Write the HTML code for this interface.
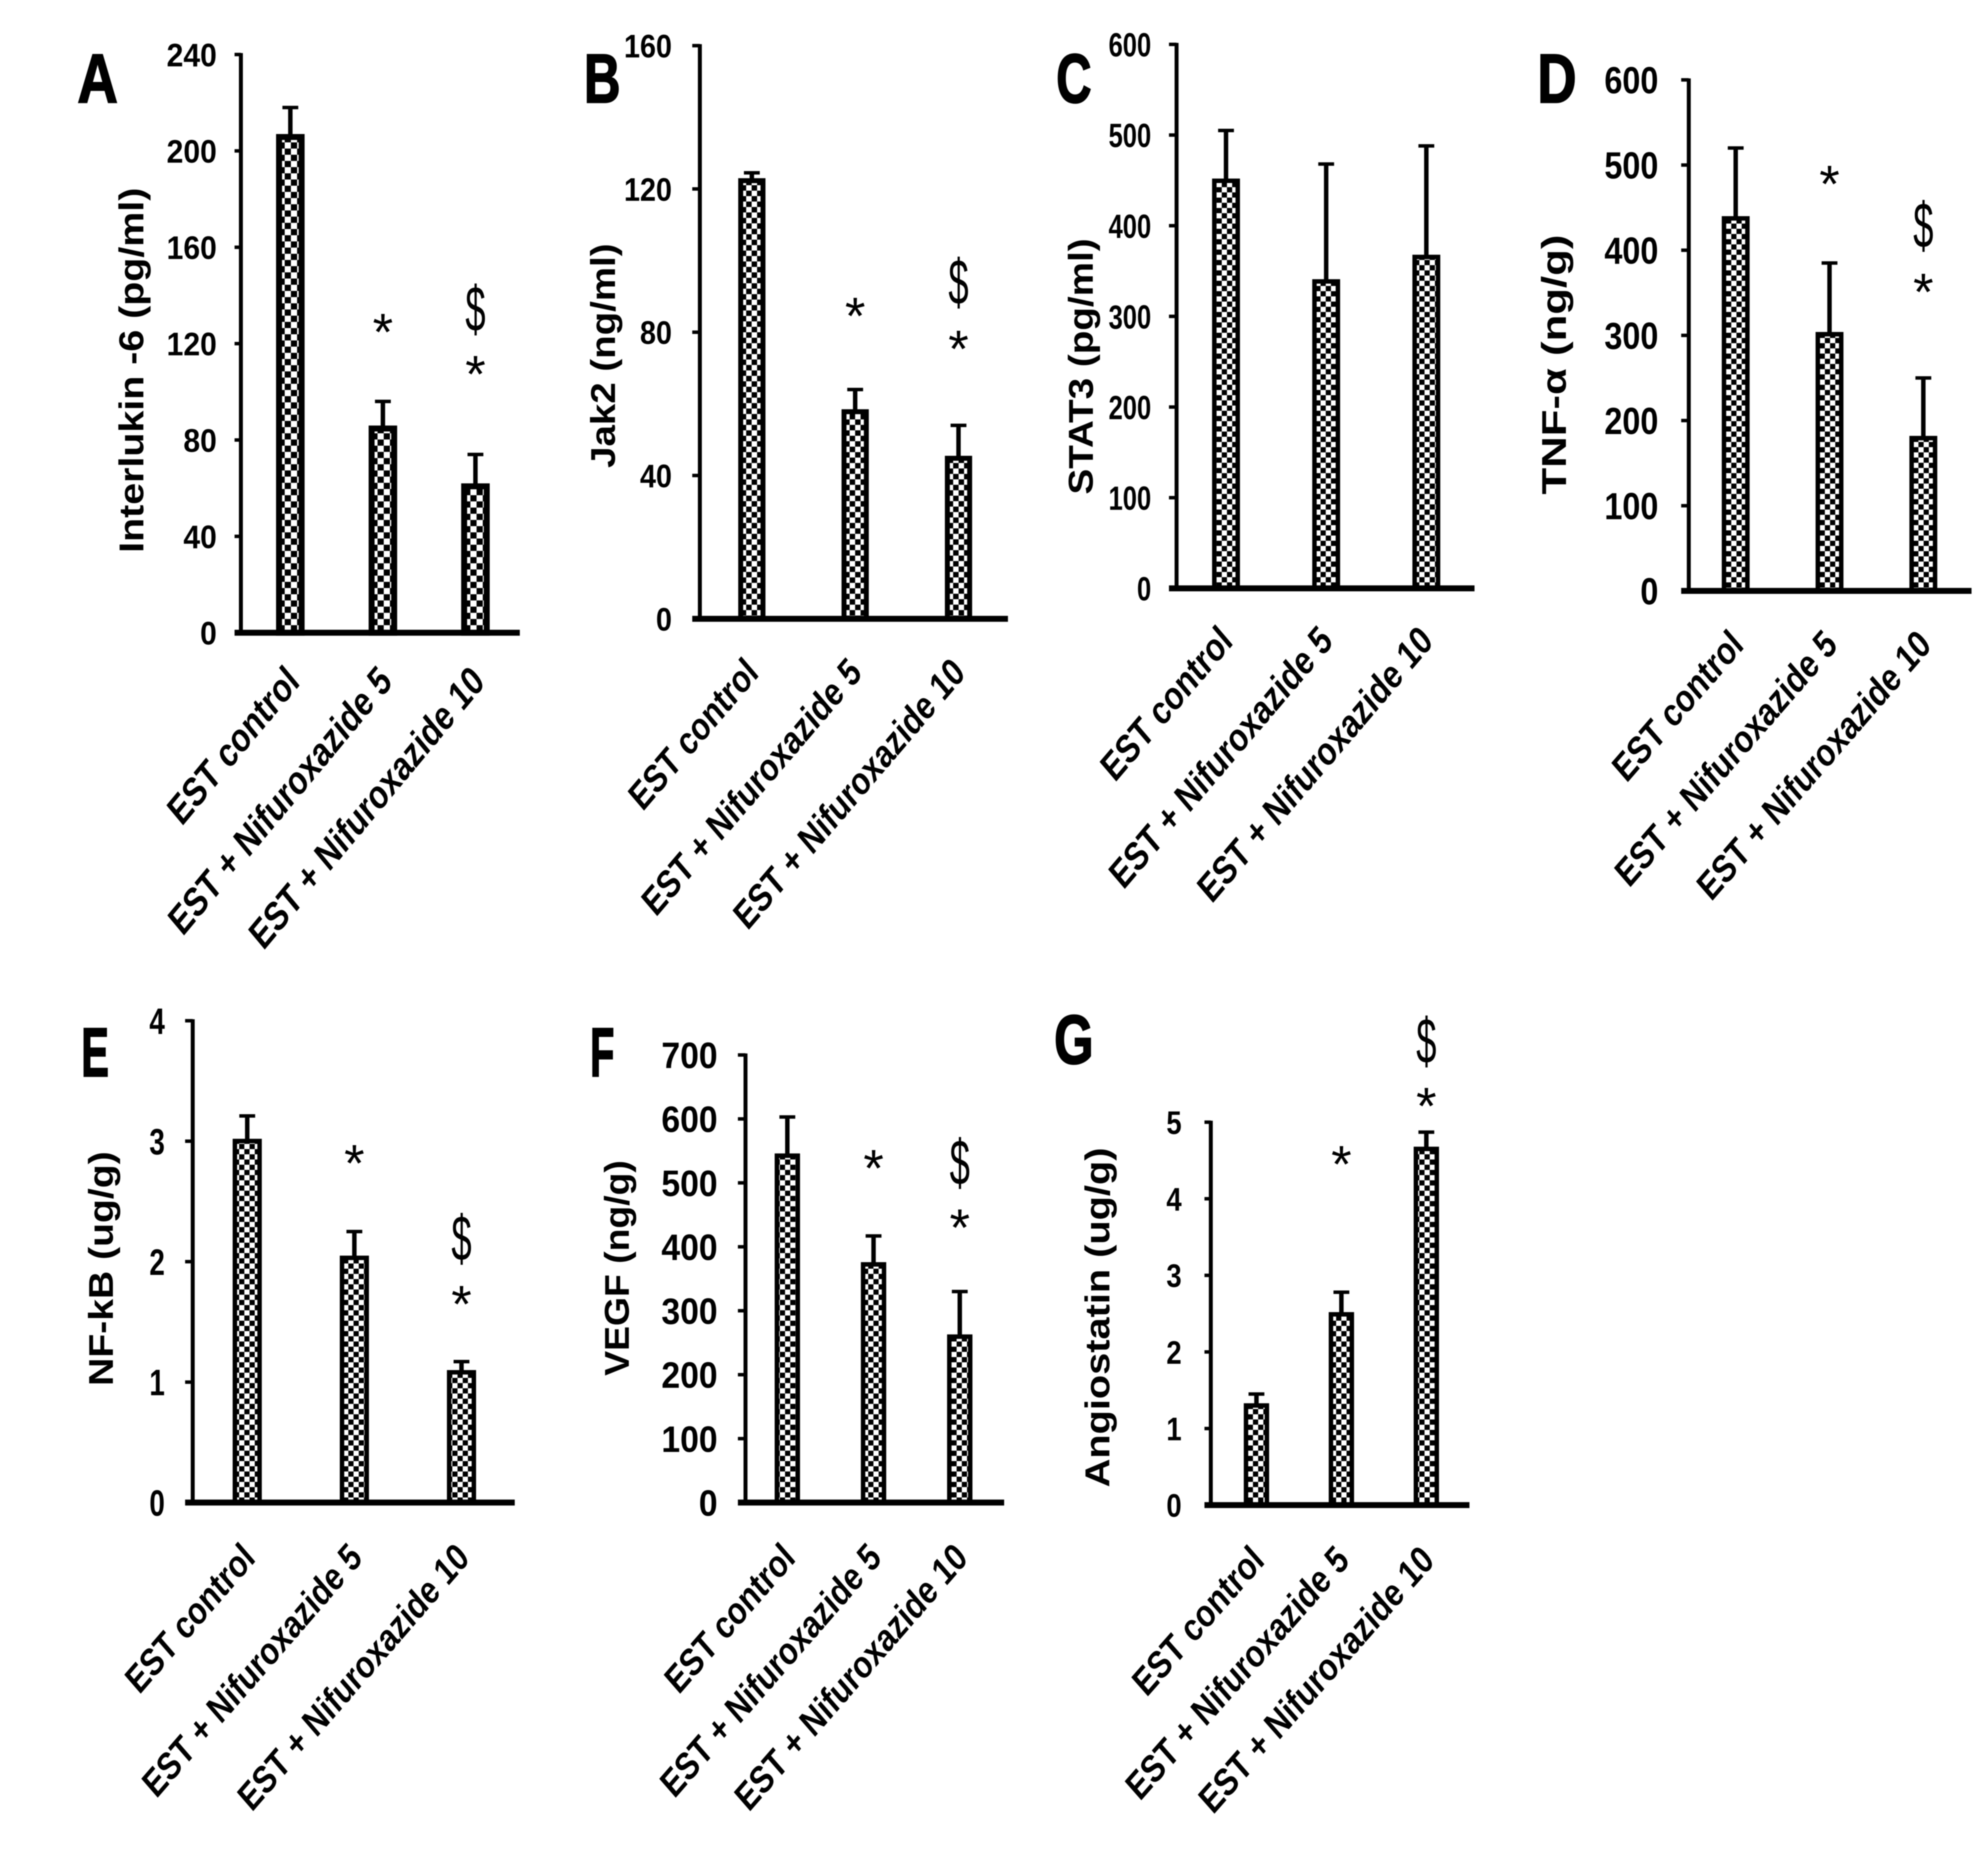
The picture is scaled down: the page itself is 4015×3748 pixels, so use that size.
<!DOCTYPE html>
<html lang="en">
<head>
<meta charset="utf-8">
<title>Panels of bar charts</title>
<style>
html,body{margin:0;padding:0;background:#fff;width:4015px;height:3748px;overflow:hidden}
svg{display:block;filter:blur(1px)}
text{font-family:"Liberation Sans",sans-serif;font-weight:700;fill:#000}
</style>
</head>
<body>
<svg id="figure" xmlns="http://www.w3.org/2000/svg" width="4015" height="3748" viewBox="0 0 4015 3748">
<rect width="4015" height="3748" fill="#fff"/>
</svg>
<script>
const categories = ["EST control", "EST + Nifuroxazide 5", "EST + Nifuroxazide 10"];

const ticksA = [0, 40, 80, 120, 160, 200, 240];
const valuesA = [207, 86, 62];
const errorsA = [11, 10, 12];
const starsA = [null, 127, 109.5];
const dollarsA = [null, null, 134.7];

const ticksB = [0, 40, 80, 120, 160];
const valuesB = [123, 58.5, 45.5];
const errorsB = [1.5, 5.5, 8.5];
const starsB = [null, 86, 76.8];
const dollarsB = [null, null, 94.2];

const ticksC = [0, 100, 200, 300, 400, 500, 600];
const valuesC = [452, 341, 368];
const errorsC = [53, 127, 120];
const starsC = [null, null, null];
const dollarsC = [null, null, null];

const ticksD = [0, 100, 200, 300, 400, 500, 600];
const valuesD = [440, 304, 182];
const errorsD = [80, 81, 68];
const starsD = [null, 484, 357];
const dollarsD = [null, null, 430];

const ticksE = [0, 1, 2, 3, 4];
const valuesE = [3.02, 2.05, 1.1];
const errorsE = [0.19, 0.2, 0.07];
const starsE = [null, 2.86, 1.69];
const dollarsE = [null, null, 2.2];

const ticksF = [0, 100, 200, 300, 400, 500, 600, 700];
const valuesF = [546, 376, 263];
const errorsF = [57, 41, 67];
const starsF = [null, 531, 438];
const dollarsF = [null, null, 533];

const ticksG = [0, 1, 2, 3, 4, 5];
const valuesG = [1.33, 2.52, 4.68];
const errorsG = [0.12, 0.26, 0.19];
const starsG = [null, 4.52, 5.28];
const dollarsG = [null, null, 6.07];

const S = 4015 / 1568;
const NS = "http://www.w3.org/2000/svg";
const root = document.getElementById("figure");
const defs = document.createElementNS(NS, "defs");
root.appendChild(defs);

function make(tag, parent, attrs, content) {
  const n = document.createElementNS(NS, tag);
  for (const k in attrs) n.setAttribute(k, attrs[k]);
  if (content !== undefined) n.textContent = content;
  parent.appendChild(n);
  return n;
}

const panels = [
  {id:"a", letter:"A", lx:77, ly:62, lw:31, title:"Interlukin -6 (pg/ml)", tx:104, t0:148, t1:436,
   ax:190, top:43, base:499, x0:185, x1:410, first:229, step:73, barW:22.5, border:12, cell:12.5,
   tickFs:66, tickSx:.92, tickR:171, lab:[189,227], labK:.93, labShift:[3,7], ticks:ticksA, values:valuesA, errors:errorsA, stars:starsA, dollars:dollarsA},
  {id:"b", letter:"B", lx:475, ly:62, lw:28, title:"Jak2 (ng/ml)", tx:476, t0:192, t1:369,
   ax:552, top:36, base:488, x0:546, x1:795, first:593, step:81.5, barW:21.5, border:10, cell:11,
   tickFs:66, tickSx:.88, tickR:530, lab:[182,213], labK:.95, labShift:[1,11], ticks:ticksB, values:valuesB, errors:errorsB, stars:starsB, dollars:dollarsB},
  {id:"c", letter:"C", lx:847, ly:62, lw:27, title:"STAT3 (pg/ml)", tx:853, t0:188, t1:390,
   ax:928, top:35, base:464, x0:922, x1:1163, first:967, step:79, barW:22, border:9, cell:10.5,
   tickFs:68, tickSx:.76, tickR:908, lab:[185,217], labK:.95, labShift:[1,10], ticks:ticksC, values:valuesC, errors:errorsC, stars:starsC, dollars:dollarsC},
  {id:"d", letter:"D", lx:1228, ly:62, lw:30, title:"TNF-α (ng/g)", tx:1226, t0:185, t1:390,
   ax:1332, top:63, base:466, x0:1326, x1:1555, first:1369, step:74, barW:22, border:9, cell:10.5,
   tickFs:76, tickSx:.86, tickR:1308, lab:[184,212], labK:.95, labShift:[2,11], ticks:ticksD, values:valuesD, errors:errorsD, stars:starsD, dollars:dollarsD},
  {id:"e", letter:"E", lx:75, ly:830, lw:23, title:"NF-kB (ug/g)", tx:80, t0:908, t1:1093,
   ax:152, top:805, base:1185, x0:146, x1:406, first:195, step:84.5, barW:23, border:9, cell:10.5,
   tickFs:74, tickSx:.76, tickR:130, lab:[182,210], labK:.95, labShift:[2,12], ticks:ticksE, values:valuesE, errors:errorsE, stars:starsE, dollars:dollarsE},
  {id:"f", letter:"F", lx:475, ly:830, lw:22, title:"VEGF (ng/g)", tx:487, t0:915, t1:1085,
   ax:588, top:832, base:1185, x0:582, x1:792, first:621, step:68, barW:20, border:9, cell:10.5,
   tickFs:74, tickSx:.92, tickR:566, lab:[183,210], labK:.95, labShift:[2,12], ticks:ticksF, values:valuesF, errors:errorsF, stars:starsF, dollars:dollarsF},
  {id:"g", letter:"G", lx:847, ly:820, lw:28, title:"Angiostatin (ug/g)", tx:866, t0:905, t1:1173,
   ax:955, top:885, base:1187, x0:950, x1:1159, first:991, step:67, barW:20, border:9, cell:10.5,
   tickFs:66, tickSx:.84, tickR:932, lab:[185,210], labK:.95, labShift:[2,12], ticks:ticksG, values:valuesG, errors:errorsG, stars:starsG, dollars:dollarsG}
];

panels.forEach(function (p) {
  const domainMax = p.ticks[p.ticks.length - 1];
  const yScale = function (v) { return S * (p.base - (v / domainMax) * (p.base - p.top)); };
  const xScale = function (i) { return S * (p.first + i * p.step); };

  const group = make("g", root, {});
  
  

  const pat = make("pattern", defs, {id:"check-" + p.id, patternUnits:"userSpaceOnUse", width:2 * p.cell, height:2 * p.cell});
  make("rect", pat, {width:2 * p.cell, height:2 * p.cell, fill:"#fff"});
  make("rect", pat, {width:p.cell, height:p.cell, fill:"#000"});
  make("rect", pat, {x:p.cell, y:p.cell, width:p.cell, height:p.cell, fill:"#000"});

  const letter = make("text", group, {"text-anchor":"middle", "font-size":140, stroke:"#000", "stroke-width":3,
    transform:"translate(" + S * p.lx + "," + (S * p.ly + 48) + ") scale(" + (p.lw * S / (140 * 0.7)) + ",1)"}, p.letter);
  
  

  const title = make("text", group, {"text-anchor":"middle", "font-size":70,
    textLength:S * (p.t1 - p.t0), lengthAdjust:"spacingAndGlyphs",
    transform:"translate(" + (S * p.tx + 23) + "," + (S * (p.t0 + p.t1) / 2) + ") rotate(-90)"}, p.title);
  
  

  const yAxis = make("line", group, {x1:S * p.ax, x2:S * p.ax, y1:yScale(domainMax) - 3, y2:S * p.base, stroke:"#000", "stroke-width":8});
  
  

  p.ticks.forEach(function (t) {
    if (t > 0) {
      const tick = make("line", group, {x1:S * p.x0, x2:S * p.ax, y1:yScale(t), y2:yScale(t), stroke:"#000", "stroke-width":7});
      
      
    }
    const label = make("text", group, {"text-anchor":"end", "font-size":p.tickFs,
      transform:"translate(" + S * p.tickR + "," + (yScale(t) + p.tickFs * 0.36) + ") scale(" + p.tickSx + ",1)"}, String(t));
    
    
  });

  const kx = p.labK * p.lab[0] * S / (56 * 10.476 / Math.SQRT2);
  const ky = p.labK * p.lab[1] * S / (56 * 10.476 / Math.SQRT2);

  categories.forEach(function (c, i) {
    const v = p.values[i];
    const e = p.errors[i];
    const cx = xScale(i);
    const w = p.barW * S;

    const stem = make("line", group, {x1:cx, x2:cx, y1:yScale(v + e), y2:yScale(v) + 4, stroke:"#000", "stroke-width":9});
    
    

    const cap = make("line", group, {x1:cx - 16, x2:cx + 16, y1:yScale(v + e), y2:yScale(v + e), stroke:"#000", "stroke-width":7});
    
    

    const bar = make("rect", group, {x:cx - w / 2 + p.border / 2, y:yScale(v) + p.border / 2, width:w - p.border, height:yScale(0) - yScale(v) - p.border / 2,
      fill:"url(#check-" + p.id + ")", stroke:"#000", "stroke-width":p.border});
    
    

    const catLabel = make("text", group, {"text-anchor":"end", "font-size":64,
      transform:"translate(" + (cx + 14 + p.labShift[0] * S) + "," + (S * p.base + 85 + p.labShift[1] * S) + ") scale(" + kx + "," + ky + ") rotate(-45) scale(.875,1)"}, c);
    
    

    if (p.stars[i] !== null) {
      const star = make("text", group, {"text-anchor":"middle", "font-size":106,
        x:cx, y:yScale(p.stars[i]) + 47, style:"font-weight:400"}, "*");
      
      
    }
    if (p.dollars[i] !== null) {
      const dollar = make("text", group, {"text-anchor":"middle", "font-size":108,
        transform:"translate(" + cx + "," + (yScale(p.dollars[i]) + 46) + ") scale(.68,1.2)", style:"font-weight:400"}, "$");
      
      
    }
  });

  const xAxis = make("line", group, {x1:S * p.x0, x2:S * p.x1, y1:S * p.base, y2:S * p.base, stroke:"#000", "stroke-width":12});
  
  
});
</script>
</body>
</html>
